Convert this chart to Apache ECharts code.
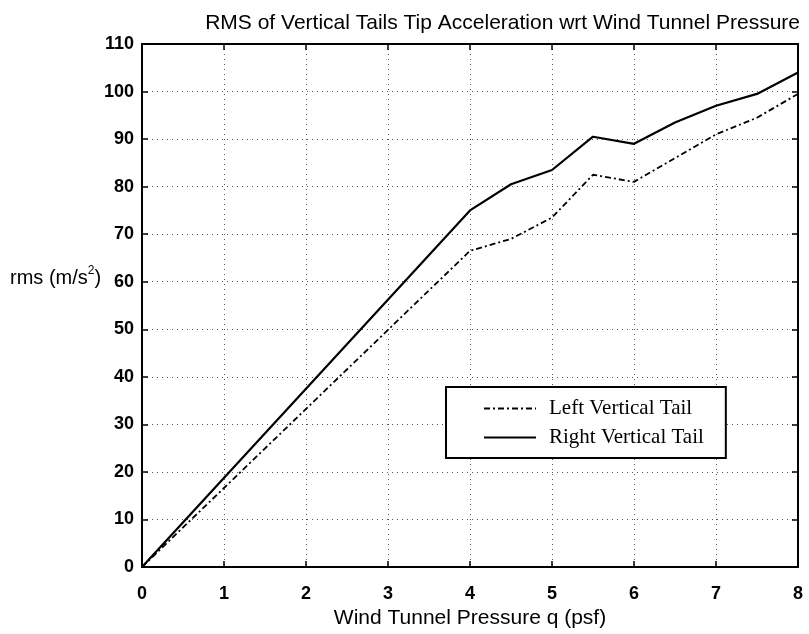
<!DOCTYPE html>
<html>
<head>
<meta charset="utf-8">
<style>html,body{margin:0;padding:0;background:#fff}#c{width:809px;height:634px}</style>
<script src="https://cdn.jsdelivr.net/npm/echarts@6/dist/echarts.min.js"></script>
</head>
<body>
<div id="c"></div>
<script>
const pressure = [0, 4, 4.5, 5, 5.5, 6, 6.5, 7, 7.5, 8];
const leftTail = [0, 66.5, 69, 73.5, 82.5, 81, 86, 91, 94.5, 99.5];
const rightTail = [0, 75, 80.5, 83.5, 90.5, 89, 93.5, 97, 99.5, 104];
const seriesNames = ['Left Vertical Tail', 'Right Vertical Tail'];

const chart = echarts.init(document.getElementById('c'), null, {renderer: 'canvas'});
const sans = 'Liberation Sans, Arial, sans-serif';
const frame = {show: true, onZero: false, lineStyle: {color: '#000', width: 2}};
const ticks = {show: true, inside: true, length: 6, lineStyle: {color: '#000', width: 1.5}};
const grid = {show: true, lineStyle: {color: '#555', type: [1, 4], width: 1}};

chart.setOption({
  animation: false,
  backgroundColor: '#fff',
  title: [
    {text: 'RMS of Vertical Tails Tip Acceleration wrt Wind Tunnel Pressure', right: 4, top: 8,
     textStyle: {fontFamily: sans, fontSize: 21, fontWeight: 'normal', color: '#000'}},
    {text: 'rms (m/s{sup|2})', left: 5, top: 260,
     textStyle: {fontFamily: sans, fontSize: 20, fontWeight: 'normal', color: '#000',
       rich: {sup: {fontFamily: sans, fontSize: 12, color: '#000', padding: [0, 0, 14, 0]}}}}
  ],
  grid: {left: 142, right: 11, top: 44, bottom: 67},
  legend: {
    orient: 'vertical', left: 446, top: 387,
    data: seriesNames,
    backgroundColor: '#fff', borderColor: '#000', borderWidth: 2, borderRadius: 0,
    padding: [11, 22, 10, 37], itemWidth: 52, itemHeight: 14, itemGap: 8,
    itemStyle: {opacity: 0},
    textStyle: {fontFamily: 'Liberation Serif, Times New Roman, serif', fontSize: 21, color: '#000', padding: [0, 0, 0, 8]}
  },
  xAxis: [
    {type: 'value', min: 0, max: 8, interval: 1, position: 'bottom',
     name: 'Wind Tunnel Pressure q (psf)', nameLocation: 'middle', nameGap: 33,
     nameTextStyle: {fontFamily: sans, fontSize: 21, color: '#000'},
     axisLine: frame, axisTick: ticks, splitLine: grid,
     axisLabel: {fontFamily: sans, fontSize: 18, fontWeight: 'bold', color: '#000', margin: 18}},
    {type: 'value', min: 0, max: 8, interval: 1, position: 'top',
     axisLine: frame, axisTick: ticks, splitLine: {show: false}, axisLabel: {show: false}}
  ],
  yAxis: [
    {type: 'value', min: 0, max: 110, interval: 10, position: 'left',
     axisLine: frame, axisTick: ticks, splitLine: grid,
     axisLabel: {fontFamily: sans, fontSize: 18, fontWeight: 'bold', color: '#000', margin: 8}},
    {type: 'value', min: 0, max: 110, interval: 10, position: 'right',
     axisLine: frame, axisTick: ticks, splitLine: {show: false}, axisLabel: {show: false}}
  ],
  series: [
    {name: seriesNames[0], type: 'line', symbol: 'none', xAxisIndex: 0, yAxisIndex: 0,
     data: pressure.map((p, i) => [p, leftTail[i]]),
     lineStyle: {color: '#000', width: 1.8, type: [6, 3, 2, 3]}, itemStyle: {color: '#000'}},
    {name: seriesNames[1], type: 'line', symbol: 'none', xAxisIndex: 0, yAxisIndex: 0,
     data: pressure.map((p, i) => [p, rightTail[i]]),
     lineStyle: {color: '#000', width: 2.2, type: 'solid'}, itemStyle: {color: '#000'}}
  ]
});
</script>
</body>
</html>
